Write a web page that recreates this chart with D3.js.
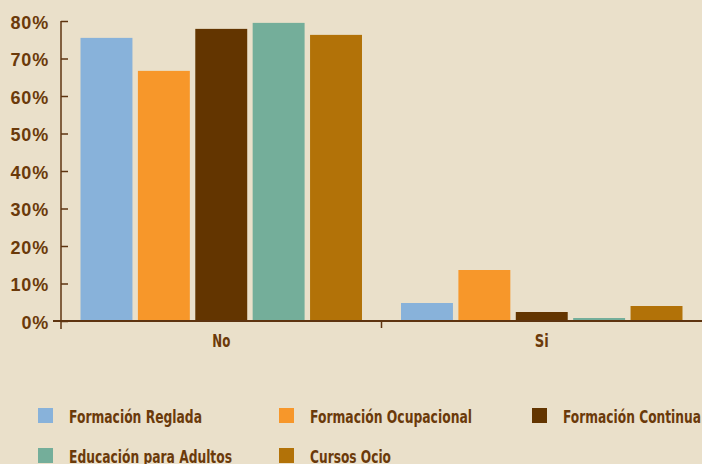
<!DOCTYPE html>
<html>
<head>
<meta charset="utf-8">
<script src="https://cdn.jsdelivr.net/npm/d3@7/dist/d3.min.js"></script>
<style>
  html, body { margin: 0; padding: 0; background: #EAE0CA; }
  svg { display: block; }
  .narrow { font-family: "DejaVu Sans", "Liberation Sans", sans-serif; font-weight: bold; }
</style>
</head>
<body>
<svg id="chart" width="702" height="464"></svg>
<script>
// Categories on the x axis
const categories = ["No", "Si"];
// Series (training types) and their colours
const seriesNames = ["Formación Reglada", "Formación Ocupacional", "Formación Continua", "Educación para Adultos", "Cursos Ocio"];
const seriesColors = ["#88B2DA", "#F7972A", "#633500", "#74AE9A", "#B27208"];
// Percentage values per series, in category order [No, Si]
const formacionReglada     = [75.5, 4.8];
const formacionOcupacional = [66.7, 13.6];
const formacionContinua    = [77.9, 2.4];
const educacionAdultos     = [79.5, 0.8];
const cursosOcio           = [76.3, 4.0];
const seriesValues = [formacionReglada, formacionOcupacional, formacionContinua, educacionAdultos, cursosOcio];
// Y tick values and labels
const yTicks = [0, 10, 20, 30, 40, 50, 60, 70, 80];
const yTickLabels = ["0%", "10%", "20%", "30%", "40%", "50%", "60%", "70%", "80%"];

const textColor = "#6B3A0A";
const axisColor = "#5E3410";

// Condensed lettering: each label is squeezed to this width
const legendTextWidth = [133, 162, 138, 163, 81];
const categoryTextWidth = [18, 14];

const svg = d3.select("#chart");
const plot = { left: 61, right: 702, top: 21, bottom: 321 };

const y = d3.scaleLinear().domain([0, 80]).range([plot.bottom, plot.top]);
const x0 = d3.scaleBand().domain(categories).range([plot.left, plot.right]).paddingInner(0).paddingOuter(0);
const x1 = d3.scaleBand().domain(seriesNames).range([0, x0.bandwidth()]).paddingInner(0.095).paddingOuter(0.34);

// Bars
const groups = svg.append("g").selectAll("g")
  .data(categories)
  .join("g")
  .attr("transform", d => `translate(${x0(d)},0)`);

groups.selectAll("rect")
  .data((c, ci) => seriesNames.map((s, si) => ({ s, si, v: seriesValues[si][ci] })))
  .join("rect")
  .attr("x", d => x1(d.s))
  .attr("width", x1.bandwidth())
  .attr("y", d => y(d.v))
  .attr("height", d => y(0) - y(d.v))
  .attr("fill", d => seriesColors[d.si]);

// Y axis: ticks point inward, labels on the left
const yAxis = d3.axisLeft(y)
  .tickValues(yTicks)
  .tickFormat((d, i) => yTickLabels[i])
  .tickSizeInner(-7)
  .tickSizeOuter(0)
  .tickPadding(12);

const gy = svg.append("g").attr("transform", `translate(${plot.left},0)`).call(yAxis);
gy.select(".domain").remove();
gy.selectAll(".tick line").attr("stroke", axisColor).attr("stroke-width", 1.5);
gy.selectAll(".tick text")
  .attr("fill", textColor)
  .attr("dy", "0.4em")
  .style("font-family", "'Liberation Sans', Arial, sans-serif")
  .style("font-weight", "bold")
  .style("font-size", "18px")
  .style("letter-spacing", "0.8px");
gy.append("line")
  .attr("x1", 0).attr("x2", 0)
  .attr("y1", plot.top).attr("y2", plot.bottom + 8)
  .attr("stroke", axisColor).attr("stroke-width", 1.5);

// X axis: baseline with a divider tick between categories
const xAxis = d3.axisBottom(x0).tickSize(0).tickPadding(14);
const gx = svg.append("g").attr("transform", `translate(0,${plot.bottom})`).call(xAxis);
gx.select(".domain").remove();
gx.append("line")
  .attr("x1", plot.left - 8).attr("x2", plot.right)
  .attr("y1", 0).attr("y2", 0)
  .attr("stroke", axisColor).attr("stroke-width", 2);
gx.append("line")
  .attr("x1", x0("Si")).attr("x2", x0("Si"))
  .attr("y1", 0).attr("y2", 7)
  .attr("stroke", axisColor).attr("stroke-width", 1.5);
gx.selectAll(".tick text")
  .attr("class", "narrow")
  .attr("fill", textColor)
  .attr("y", 0)
  .attr("dy", 26)
  .attr("textLength", (d, i) => categoryTextWidth[i])
  .attr("lengthAdjust", "spacingAndGlyphs")
  .style("font-size", "17px");

// Legend
const legendPos = [[38, 408], [279, 408], [532, 408], [38, 448], [279, 448]];
const legend = svg.append("g").selectAll("g")
  .data(seriesNames)
  .join("g")
  .attr("transform", (d, i) => `translate(${legendPos[i][0]},${legendPos[i][1]})`);
legend.append("rect")
  .attr("width", 15).attr("height", 15)
  .attr("fill", (d, i) => seriesColors[i]);
legend.append("text")
  .attr("class", "narrow")
  .attr("x", 31).attr("y", 15)
  .attr("fill", textColor)
  .attr("textLength", (d, i) => legendTextWidth[i])
  .attr("lengthAdjust", "spacingAndGlyphs")
  .style("font-size", "17.5px")
  .text(d => d);
</script>
</body>
</html>
